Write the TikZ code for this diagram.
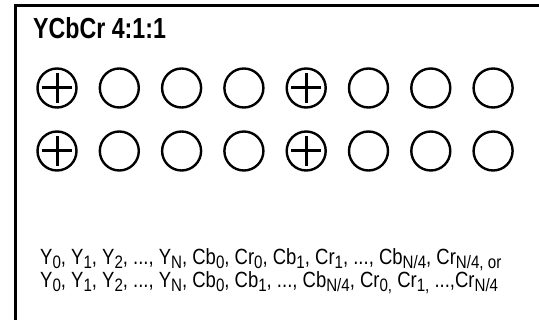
\documentclass[tikz,border=0pt]{standalone}
\usepackage{fontspec}
\setmainfont{Liberation Sans}
\newfontfamily\titlefont[FakeStretch=0.80,BoldFont={Liberation Sans Bold}]{Liberation Sans}
\newfontfamily\notefont[FakeStretch=0.84]{Liberation Sans}
\newcommand\subidx[1]{\raisebox{-3.5pt}{\fontsize{18}{18}\selectfont #1}}

\begin{document}
\begin{tikzpicture}[
  x=1pt, y=-1pt,
  samp/.style={draw, circle, line width=2.4pt, minimum size=39pt, inner sep=0pt},
  plus/.style={line width=3pt},
  note/.style={anchor=base west, inner sep=0pt, font=\notefont\fontsize{22}{22}\selectfont}
]
  \useasboundingbox (0,0) rectangle (539,320);
  % frame (cut off at right and bottom)
  \draw[line width=2.2pt] (541,5.5) -| (15.5,322);
  \node[anchor=base west, inner sep=0pt, font=\titlefont\bfseries\fontsize{29}{29}\selectfont] (title) at (33,39) {YCbCr 4:1:1};
  % sample grid
  \foreach \r/\yy in {1/88, 2/151} {
    \foreach \c in {1,...,8} {
      \node[samp] (s\r\c) at ({57+62.3*(\c-1)},\yy) {};
    }
    \foreach \c in {1,5} {
      \draw[plus] ([xshift=-15pt]s\r\c.center) -- ([xshift=15pt]s\r\c.center);
      \draw[plus] ([yshift=-15pt]s\r\c.center) -- ([yshift=15pt]s\r\c.center);
    }
  }
  % storage order
  \node[note] (order1) at (40,265) {Y\subidx{0}, Y\subidx{1}, Y\subidx{2}, ..., Y\subidx{N}, Cb\subidx{0}, Cr\subidx{0}, Cb\subidx{1}, Cr\subidx{1}, ..., Cb\subidx{N/4}, Cr\subidx{N/4, or}};
  \node[note] (order2) at (40,288) {Y\subidx{0}, Y\subidx{1}, Y\subidx{2}, ..., Y\subidx{N}, Cb\subidx{0}, Cb\subidx{1}, ..., Cb\subidx{N/4}, Cr\subidx{0,} Cr\subidx{1,} ...,Cr\subidx{N/4}};
\end{tikzpicture}
\end{document}
